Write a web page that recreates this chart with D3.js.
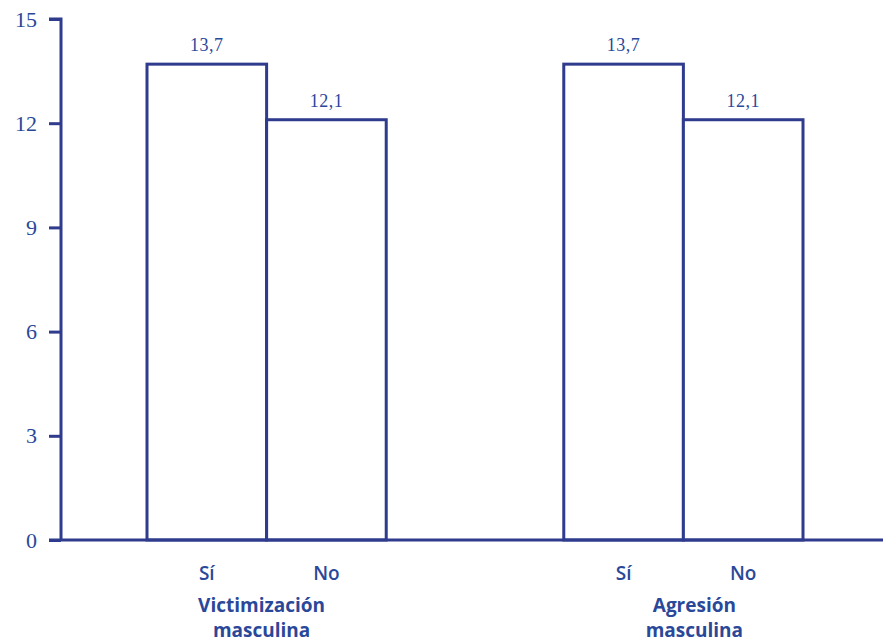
<!DOCTYPE html>
<html>
<head>
<meta charset="utf-8">
<script src="https://cdn.jsdelivr.net/npm/d3@7"></script>
<style>
  html, body { margin: 0; padding: 0; background: #fff; }
  svg { display: block; }
</style>
</head>
<body>
<svg id="chart" width="883" height="643"></svg>
<script>
const groups = ["Victimización masculina", "Agresión masculina"];
const groupLines = [["Victimización", "masculina"], ["Agresión", "masculina"]];
const subCats = ["Sí", "No"];
const values = [[13.7, 12.1], [13.7, 12.1]];
const valueLabels = [["13,7", "12,1"], ["13,7", "12,1"]];
const yTicks = [0, 3, 6, 9, 12, 15];

const stroke = "#2f3b8d";
const textCol = "#2a4899";

const svg = d3.select("#chart");
const axisX = 61, baseY = 540, topY = 19;

const y = d3.scaleLinear().domain([0, 15]).range([baseY, topY]);
const x0 = d3.scaleBand().domain(groups).range([147, 803]).paddingInner(0.426).paddingOuter(0);
const x1 = d3.scaleBand().domain(subCats).range([0, x0.bandwidth()]).padding(0);

// Y axis
const yAxis = d3.axisLeft(y).tickValues(yTicks).tickSize(12).tickPadding(12).tickFormat(d3.format("d"));
const gy = svg.append("g").attr("transform", `translate(${axisX},0)`).call(yAxis);
gy.select(".domain").attr("stroke", stroke).attr("stroke-width", 3)
  .attr("d", `M-12,${topY}H0V${baseY}`);
gy.selectAll(".tick line").attr("stroke", stroke).attr("stroke-width", 3);
gy.selectAll(".tick text").attr("fill", textCol)
  .style("font-family", "'Liberation Serif', 'DejaVu Serif', serif")
  .style("font-size", "22px");

// Bars
const g = svg.append("g");
groups.forEach((grp, gi) => {
  subCats.forEach((c, ci) => {
    const v = values[gi][ci];
    const bx = x0(grp) + x1(c);
    g.append("rect")
      .attr("x", bx).attr("y", y(v))
      .attr("width", x1.bandwidth()).attr("height", y(0) - y(v))
      .attr("fill", "#fff").attr("stroke", stroke).attr("stroke-width", 3);
    g.append("text")
      .attr("x", bx + x1.bandwidth() / 2).attr("y", y(v) - 13)
      .attr("text-anchor", "middle").attr("fill", textCol)
      .style("font-family", "'Liberation Serif', 'DejaVu Serif', serif")
      .style("font-size", "18px").style("letter-spacing", "0.5px")
      .text(valueLabels[gi][ci]);
    g.append("text")
      .attr("x", bx + x1.bandwidth() / 2).attr("y", 580)
      .attr("text-anchor", "middle").attr("fill", textCol)
      .style("font-family", "'Open Sans', 'Noto Sans', sans-serif")
      .style("font-size", "19px").style("font-weight", "600")
      .text(c);
  });
  const cx = x0(grp) + x0.bandwidth() / 2 + (gi === 0 ? -5 : 11);
  groupLines[gi].forEach((line, li) => {
    g.append("text")
      .attr("x", cx).attr("y", 612 + li * 25)
      .attr("text-anchor", "middle").attr("fill", textCol)
      .style("font-family", "'Open Sans', 'Noto Sans', sans-serif")
      .style("font-size", "19px").style("font-weight", "bold")
      .text(line);
  });
});

// X axis baseline
svg.append("line")
  .attr("x1", axisX - 12).attr("x2", 883)
  .attr("y1", y(0)).attr("y2", y(0))
  .attr("stroke", stroke).attr("stroke-width", 3);
</script>
</body>
</html>
